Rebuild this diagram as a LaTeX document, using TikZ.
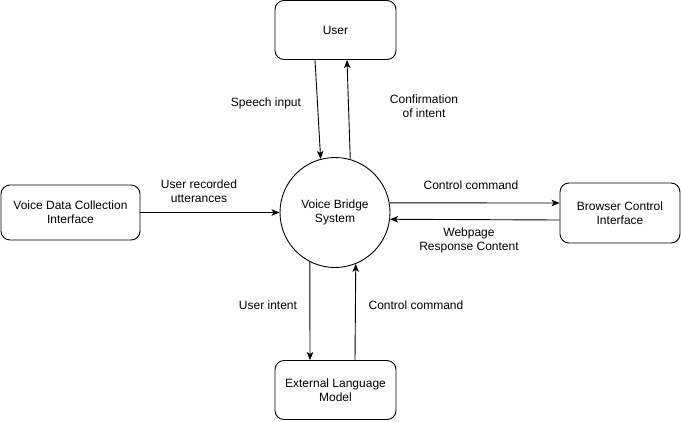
\documentclass[tikz,border=0pt]{standalone}
\usepackage{fontspec}
\setmainfont{Liberation Sans}
\usetikzlibrary{arrows.meta}
\begin{document}
\begin{tikzpicture}[x=1pt,y=-1pt,
  every node/.style={font=\fontsize{12pt}{14pt}\selectfont, align=center},
  box/.style={draw, rounded corners=9pt, line width=0.9pt, minimum width=121pt, minimum height=59pt, inner sep=2pt},
  hub/.style={draw, circle, line width=0.9pt, minimum size=110pt, inner sep=0pt},
  flow/.style={line width=0.9pt, -{Stealth[length=8pt,width=6.5pt,inset=2pt]}},
  lbl/.style={inner sep=1pt}]
\useasboundingbox (0,0) rectangle (681,421);
\node[hub] (vbs) at (335,212.5) {Voice Bridge\\System};
\node[box] (user) at (335.5,30) {User};
\node[box, minimum width=139pt, minimum height=55pt] (vdc) at (70.5,212.5) {Voice Data Collection\\Interface};
\node[box, minimum width=120pt, minimum height=60pt] (bci) at (620,213) {Browser Control\\Interface};
\node[box] (elm) at (335.5,390) {External Language\\Model};

\draw[flow] ([xshift=-20.5pt]user.south) -- (vbs.105.8);
\draw[flow] (vbs.74.2) -- ([xshift=11.5pt]user.south);
\draw[flow] (vdc.east) -- (vbs.west);
\draw[flow] (vbs.10) -- ([yshift=10pt]bci.west);
\draw[flow] ([yshift=-7pt]bci.west) -- (vbs.-7.8);
\draw[flow] (vbs.-117) -- ([xshift=-25.5pt]elm.north);
\draw[flow] ([xshift=19.5pt]elm.north) -- (vbs.-68.7);

\node[lbl] (l1) at (266,103) {Speech input};
\node[lbl] (l2) at (424,106) {Confirmation\\of intent};
\node[lbl] (l3) at (199,191) {User recorded\\utterances};
\node[lbl] (l4) at (471,185.5) {Control command};
\node[lbl] (l5) at (469,240) {Webpage\\Response Content};
\node[lbl] (l6) at (268,305) {User intent};
\node[lbl] (l7) at (416,305) {Control command};
\end{tikzpicture}
\end{document}
